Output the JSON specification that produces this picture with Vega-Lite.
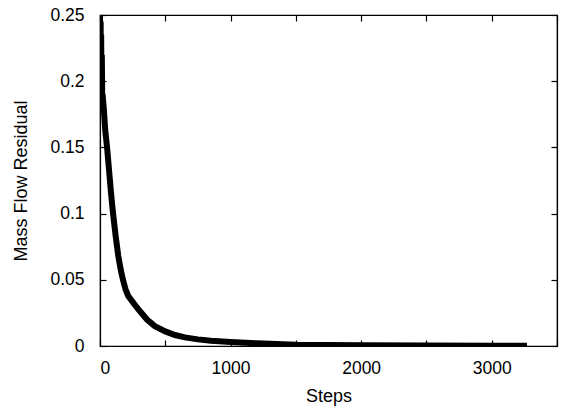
{
  "$schema": "https://vega.github.io/schema/vega-lite/v6.json",
  "width": 457,
  "height": 331,
  "autosize": {"type": "none"},
  "padding": {"left": 100, "top": 15, "right": 9, "bottom": 61},
  "background": "white",
  "config": {
    "view": {"stroke": "black", "strokeWidth": 1.2},
    "font": "Liberation Sans",
    "axis": {
      "grid": false,
      "domainColor": "black",
      "tickColor": "black",
      "labelColor": "black",
      "titleColor": "black",
      "labelFont": "Liberation Sans",
      "titleFont": "Liberation Sans",
      "labelFontSize": 17.5,
      "titleFontSize": 18,
      "titleFontWeight": "normal",
      "tickSize": -6,
      "tickWidth": 1.2,
      "domainWidth": 1.2
    }
  },
  "data": {
    "values": [
      {"step": 0, "residual": 0.25},
      {"step": 3, "residual": 0.2},
      {"step": 5, "residual": 0.245},
      {"step": 7, "residual": 0.195},
      {"step": 9, "residual": 0.235},
      {"step": 11, "residual": 0.19},
      {"step": 14, "residual": 0.22},
      {"step": 17, "residual": 0.188},
      {"step": 20, "residual": 0.19},
      {"step": 30, "residual": 0.178},
      {"step": 40, "residual": 0.163},
      {"step": 54, "residual": 0.15},
      {"step": 70, "residual": 0.132},
      {"step": 85, "residual": 0.115},
      {"step": 100, "residual": 0.1},
      {"step": 120, "residual": 0.083},
      {"step": 140, "residual": 0.068},
      {"step": 160, "residual": 0.057},
      {"step": 176, "residual": 0.05},
      {"step": 195, "residual": 0.043},
      {"step": 215, "residual": 0.038},
      {"step": 260, "residual": 0.032},
      {"step": 300, "residual": 0.027},
      {"step": 360, "residual": 0.02},
      {"step": 420, "residual": 0.015},
      {"step": 500, "residual": 0.011},
      {"step": 574, "residual": 0.0083},
      {"step": 650, "residual": 0.0065},
      {"step": 750, "residual": 0.005},
      {"step": 850, "residual": 0.004},
      {"step": 1000, "residual": 0.003},
      {"step": 1200, "residual": 0.002},
      {"step": 1500, "residual": 0.001},
      {"step": 2000, "residual": 0.0005},
      {"step": 2500, "residual": 0.0003},
      {"step": 3000, "residual": 0.0002},
      {"step": 3270, "residual": 0.0001}
    ]
  },
  "layer": [
    {
      "mark": {"type": "line", "color": "black", "strokeWidth": 6, "clip": true},
      "encoding": {
        "x": {
          "field": "step", "type": "quantitative",
          "scale": {"domain": [0, 3500], "nice": false, "zero": false},
          "axis": {
            "title": "Steps",
            "values": [0, 500, 1000, 1500, 2000, 2500, 3000, 3500],
            "format": "d",
            "labelExpr": "datum.value % 1000 == 0 && datum.value < 3500 ? datum.label : ''",
            "labelPadding": 19,
            "titlePadding": 11
          }
        },
        "y": {
          "field": "residual", "type": "quantitative",
          "scale": {"domain": [0, 0.25], "nice": false},
          "axis": {
            "title": "Mass Flow Residual",
            "values": [0, 0.05, 0.1, 0.15, 0.2, 0.25],
            "format": ".2~f",
            "labelPadding": 22,
            "titlePadding": 19
          }
        }
      }
    },
    {
      "mark": {"type": "line", "opacity": 0},
      "encoding": {
        "x": {
          "field": "step", "type": "quantitative",
          "scale": {"domain": [0, 3500], "nice": false, "zero": false},
          "axis": {"orient": "top", "title": null, "labels": false,
                   "values": [0, 500, 1000, 1500, 2000, 2500, 3000, 3500]}
        },
        "y": {
          "field": "residual", "type": "quantitative",
          "scale": {"domain": [0, 0.25], "nice": false},
          "axis": {"orient": "right", "title": null, "labels": false,
                   "values": [0, 0.05, 0.1, 0.15, 0.2, 0.25]}
        }
      }
    }
  ],
  "resolve": {"axis": {"x": "independent", "y": "independent"}}
}
